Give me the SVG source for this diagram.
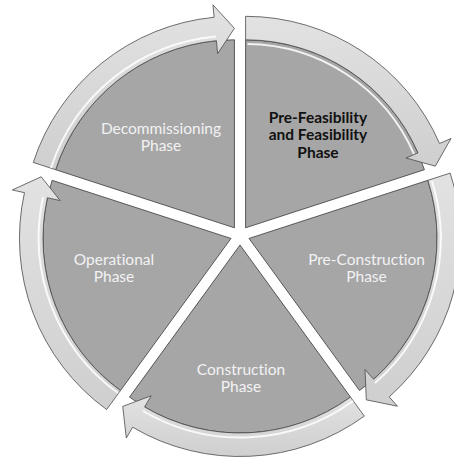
<svg xmlns="http://www.w3.org/2000/svg" width="454" height="459" viewBox="0 0 454 459">
<defs>
<style>
.wedge{fill:#a6a6a6;stroke:#3a3a3a;stroke-width:0.8;stroke-linejoin:round}
.arrow{fill:url(#ag);stroke:#4a4a4a;stroke-width:0.8;stroke-linejoin:miter}
.hl{fill:none;stroke:#ffffff;stroke-width:2;stroke-opacity:0.85}
.lbl{font-family:Lato,"Open Sans","Liberation Sans",sans-serif;font-size:15.5px;fill:#f2f2f4;text-anchor:middle;font-variant-ligatures:none}
.bold{font-weight:bold;fill:#111111}
</style>
<linearGradient id="ag" x1="0" y1="0" x2="0" y2="1">
<stop offset="0" stop-color="#e2e2e2"/>
<stop offset="1" stop-color="#cfcfcf"/>
</linearGradient>
</defs>
<rect width="454" height="459" fill="#ffffff"/>
<g id="node-prefeasibility">
<path class="wedge" d="M245.58,227.81 L245.58,39.81 A188,188 0 0 1 424.38,169.71 Z"/>
</g>
<g id="node-preconstruction">
<path class="wedge" d="M249.04,238.44 L427.84,180.34 A188,188 0 0 1 359.54,390.54 Z"/>
</g>
<g id="node-construction">
<path class="wedge" d="M240,245 L350.50,397.10 A188,188 0 0 1 129.50,397.10 Z"/>
</g>
<g id="node-operational">
<path class="wedge" d="M230.96,238.44 L120.46,390.54 A188,188 0 0 1 52.16,180.34 Z"/>
</g>
<g id="node-decommissioning">
<path class="wedge" d="M234.42,227.81 L55.62,169.71 A188,188 0 0 1 234.42,39.81 Z"/>
</g>
<g id="connectors">
<path class="arrow" d="M245.58,16.31 A211.5,211.5 0 0 1 439.54,143.47 L451.00,138.49 L435.32,166.16 L406.07,158.03 L417.99,152.84 A188,188 0 0 0 245.58,39.81 Z"/>
<path class="hl" d="M247.5,44 A184,184 0 0 1 414,154"/>
<path class="arrow" d="M450.19,173.08 A211.5,211.5 0 0 1 389.18,396.85 L397.47,406.21 L366.30,399.84 L365.00,369.51 L373.61,379.24 A188,188 0 0 0 427.84,180.34 Z"/>
<path class="hl" d="M432,181 A192,192 0 0 1 375,383"/>
<path class="arrow" d="M364.32,416.11 A211.5,211.5 0 0 1 132.66,427.23 L126.31,438.01 L122.74,406.40 L151.18,395.79 L144.58,406.99 A188,188 0 0 0 350.50,397.10 Z"/>
<path class="hl" d="M353,401 A192,192 0 0 1 143,411"/>
<path class="arrow" d="M106.64,409.55 A211.5,211.5 0 0 1 24.47,192.66 L12.27,189.96 L41.22,176.79 L60.11,200.56 L47.42,197.75 A188,188 0 0 0 120.46,390.54 Z"/>
<path class="hl" d="M118,393 A192,192 0 0 1 43,197"/>
<path class="arrow" d="M33.27,162.45 A211.5,211.5 0 0 1 214.15,17.28 L212.95,4.84 L234.42,28.31 L217.65,53.61 L216.40,40.67 A188,188 0 0 0 55.62,169.71 Z"/>
<path class="hl" d="M51,168 A192,192 0 0 1 216,36.5"/>
</g>
<g id="labels">
<text class="lbl" x="161" y="134">Decommissioning</text>
<text class="lbl" x="161" y="151">Phase</text>
<text class="lbl bold" x="318" y="122.5">Pre-Feasibility</text>
<text class="lbl bold" x="318" y="140">and Feasibility</text>
<text class="lbl bold" x="318" y="158">Phase</text>
<text class="lbl" x="114" y="265">Operational</text>
<text class="lbl" x="114" y="282">Phase</text>
<text class="lbl" x="366.5" y="264.5">Pre-Construction</text>
<text class="lbl" x="366.5" y="282">Phase</text>
<text class="lbl" x="241" y="374.5">Construction</text>
<text class="lbl" x="241" y="392">Phase</text>
</g>
</svg>
